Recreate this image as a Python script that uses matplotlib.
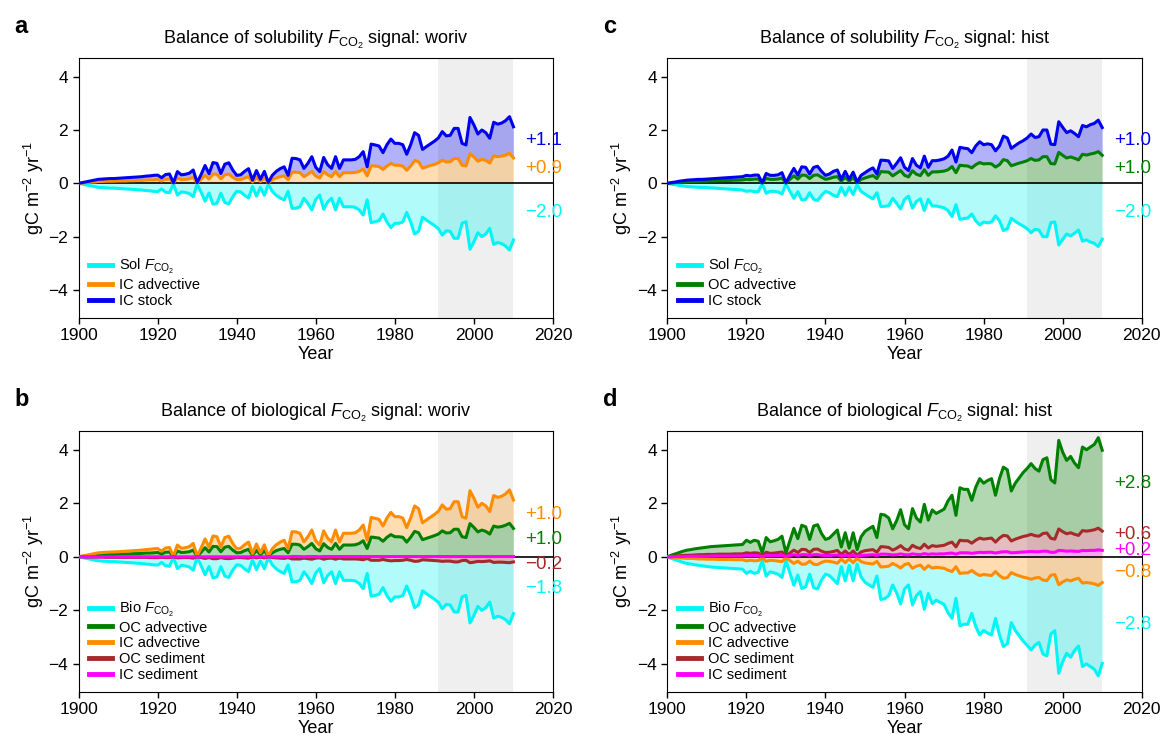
import numpy as np
import matplotlib
matplotlib.use("Agg")
import matplotlib.pyplot as plt

plt.rcParams['font.family'] = ['Liberation Sans', 'DejaVu Sans']
plt.rcParams['mathtext.fontset'] = 'custom'
plt.rcParams['mathtext.rm'] = 'Liberation Sans'
plt.rcParams['mathtext.it'] = 'Liberation Sans:italic'
plt.rcParams['mathtext.bf'] = 'Liberation Sans:bold'

years = np.arange(1900, 2011)

# ---- panel a: solubility signal, woriv ----
sol_a = [0.00, -0.03, -0.06, -0.09, -0.12, -0.15, -0.16, -0.17, -0.18, -0.18,
         -0.19, -0.20, -0.21, -0.22, -0.23, -0.24, -0.25, -0.27, -0.28, -0.30,
         -0.31, -0.21, -0.33, -0.35, -0.02, -0.44, -0.32, -0.34, -0.38, -0.50,
         -0.03, -0.33, -0.67, -0.36, -0.78, -0.75, -0.37, -0.72, -0.77, -0.50,
         -0.30, -0.32, -0.45, -0.55, -0.12, -0.48, -0.15, -0.45, -0.03, -0.30,
         -0.45, -0.55, -0.62, -0.30, -0.94, -0.93, -0.88, -0.56, -0.75, -1.00,
         -0.60, -0.44, -0.97, -0.70, -0.56, -1.00, -0.56, -0.88, -0.88, -0.88,
         -0.90, -1.00, -1.19, -0.62, -1.47, -1.44, -1.40, -1.15, -1.45, -1.66,
         -1.50, -1.50, -1.45, -1.09, -1.45, -1.90, -1.80, -1.27, -1.38, -1.48,
         -1.58, -1.70, -1.94, -1.78, -1.80, -2.06, -2.06, -1.50, -1.44, -2.47,
         -2.19, -1.85, -2.00, -1.90, -1.69, -2.29, -2.22, -2.26, -2.35, -2.50, -2.12]
icadv_a = [0.00, 0.01, 0.03, 0.04, 0.05, 0.07, 0.07, 0.08, 0.08, 0.08,
           0.09, 0.09, 0.09, 0.10, 0.10, 0.11, 0.11, 0.12, 0.13, 0.13,
           0.14, 0.09, 0.15, 0.16, 0.01, 0.20, 0.14, 0.15, 0.17, 0.23,
           0.01, 0.15, 0.30, 0.16, 0.35, 0.34, 0.17, 0.32, 0.35, 0.23,
           0.14, 0.14, 0.20, 0.25, 0.05, 0.22, 0.07, 0.20, 0.01, 0.14,
           0.20, 0.25, 0.28, 0.14, 0.42, 0.42, 0.40, 0.25, 0.34, 0.45,
           0.27, 0.20, 0.44, 0.32, 0.25, 0.45, 0.25, 0.40, 0.40, 0.40,
           0.41, 0.45, 0.54, 0.28, 0.66, 0.65, 0.63, 0.52, 0.65, 0.75,
           0.68, 0.68, 0.65, 0.49, 0.65, 0.86, 0.81, 0.57, 0.62, 0.67,
           0.71, 0.77, 0.87, 0.80, 0.81, 0.93, 0.93, 0.68, 0.65, 1.11,
           0.99, 0.83, 0.90, 0.86, 0.76, 1.03, 1.00, 1.02, 1.06, 1.13, 0.95]
icstock_a = [0.00, 0.03, 0.06, 0.09, 0.12, 0.15, 0.16, 0.17, 0.18, 0.18,
             0.19, 0.20, 0.21, 0.22, 0.23, 0.24, 0.25, 0.27, 0.28, 0.30,
             0.31, 0.21, 0.33, 0.35, 0.02, 0.44, 0.32, 0.34, 0.38, 0.50,
             0.03, 0.33, 0.67, 0.36, 0.78, 0.75, 0.37, 0.72, 0.77, 0.50,
             0.30, 0.32, 0.45, 0.55, 0.12, 0.48, 0.15, 0.45, 0.03, 0.30,
             0.45, 0.55, 0.62, 0.30, 0.94, 0.93, 0.88, 0.56, 0.75, 1.00,
             0.60, 0.44, 0.97, 0.70, 0.56, 1.00, 0.56, 0.88, 0.88, 0.88,
             0.90, 1.00, 1.19, 0.62, 1.47, 1.44, 1.40, 1.15, 1.45, 1.66,
             1.50, 1.50, 1.45, 1.09, 1.45, 1.90, 1.80, 1.27, 1.38, 1.48,
             1.58, 1.70, 1.94, 1.78, 1.80, 2.06, 2.06, 1.50, 1.44, 2.47,
             2.19, 1.85, 2.00, 1.90, 1.69, 2.29, 2.22, 2.26, 2.35, 2.50, 2.12]

# ---- panel b: biological signal, woriv ----
bio_b = [0.00, -0.03, -0.06, -0.09, -0.12, -0.15, -0.16, -0.17, -0.18, -0.18,
         -0.19, -0.20, -0.21, -0.22, -0.23, -0.24, -0.25, -0.27, -0.28, -0.30,
         -0.31, -0.21, -0.33, -0.35, -0.02, -0.44, -0.32, -0.34, -0.38, -0.50,
         -0.03, -0.33, -0.67, -0.36, -0.78, -0.75, -0.37, -0.72, -0.77, -0.50,
         -0.30, -0.32, -0.45, -0.55, -0.12, -0.48, -0.15, -0.45, -0.03, -0.30,
         -0.45, -0.55, -0.62, -0.30, -0.94, -0.93, -0.88, -0.56, -0.75, -1.00,
         -0.60, -0.44, -0.97, -0.70, -0.56, -1.00, -0.56, -0.88, -0.88, -0.88,
         -0.90, -1.00, -1.19, -0.62, -1.47, -1.44, -1.40, -1.15, -1.45, -1.66,
         -1.50, -1.50, -1.45, -1.09, -1.45, -1.90, -1.80, -1.27, -1.38, -1.48,
         -1.58, -1.70, -1.94, -1.78, -1.80, -2.06, -2.06, -1.50, -1.44, -2.47,
         -2.19, -1.85, -2.00, -1.90, -1.69, -2.29, -2.22, -2.26, -2.35, -2.50, -2.12]
ocadv_b = [0.00, 0.02, 0.03, 0.05, 0.06, 0.08, 0.08, 0.09, 0.09, 0.09,
           0.10, 0.10, 0.11, 0.11, 0.12, 0.12, 0.13, 0.14, 0.14, 0.15,
           0.16, 0.11, 0.17, 0.18, 0.01, 0.22, 0.16, 0.17, 0.19, 0.25,
           0.02, 0.17, 0.34, 0.18, 0.39, 0.38, 0.19, 0.36, 0.39, 0.25,
           0.15, 0.16, 0.23, 0.28, 0.06, 0.24, 0.08, 0.23, 0.02, 0.15,
           0.23, 0.28, 0.31, 0.15, 0.47, 0.47, 0.44, 0.28, 0.38, 0.50,
           0.30, 0.22, 0.49, 0.35, 0.28, 0.50, 0.28, 0.44, 0.44, 0.44,
           0.45, 0.50, 0.60, 0.31, 0.74, 0.72, 0.70, 0.58, 0.73, 0.83,
           0.75, 0.75, 0.73, 0.55, 0.73, 0.95, 0.90, 0.64, 0.69, 0.74,
           0.79, 0.85, 0.97, 0.89, 0.90, 1.03, 1.03, 0.75, 0.72, 1.24,
           1.10, 0.93, 1.00, 0.95, 0.85, 1.15, 1.11, 1.13, 1.18, 1.25, 1.06]
icadv_b = [0.00, 0.03, 0.06, 0.09, 0.12, 0.15, 0.16, 0.17, 0.18, 0.18,
           0.19, 0.20, 0.21, 0.22, 0.23, 0.24, 0.25, 0.27, 0.28, 0.30,
           0.31, 0.21, 0.33, 0.35, 0.02, 0.44, 0.32, 0.34, 0.38, 0.50,
           0.03, 0.33, 0.67, 0.36, 0.78, 0.75, 0.37, 0.72, 0.77, 0.50,
           0.30, 0.32, 0.45, 0.55, 0.12, 0.48, 0.15, 0.45, 0.03, 0.30,
           0.45, 0.55, 0.62, 0.30, 0.94, 0.93, 0.88, 0.56, 0.75, 1.00,
           0.60, 0.44, 0.97, 0.70, 0.56, 1.00, 0.56, 0.88, 0.88, 0.88,
           0.90, 1.00, 1.19, 0.62, 1.47, 1.44, 1.40, 1.15, 1.45, 1.66,
           1.50, 1.50, 1.45, 1.09, 1.45, 1.90, 1.80, 1.27, 1.38, 1.48,
           1.58, 1.70, 1.94, 1.78, 1.80, 2.06, 2.06, 1.50, 1.44, 2.47,
           2.19, 1.85, 2.00, 1.90, 1.69, 2.29, 2.22, 2.26, 2.35, 2.50, 2.12]
ocsed_b = [0.00, 0.00, -0.01, -0.01, -0.01, -0.01, -0.01, -0.02, -0.02, -0.02,
           -0.02, -0.02, -0.02, -0.02, -0.02, -0.02, -0.02, -0.02, -0.03, -0.03,
           -0.03, -0.02, -0.03, -0.03, 0.00, -0.04, -0.03, -0.03, -0.03, -0.05,
           0.00, -0.03, -0.06, -0.03, -0.07, -0.07, -0.03, -0.06, -0.07, -0.05,
           -0.03, -0.03, -0.04, -0.05, -0.01, -0.04, -0.01, -0.04, 0.00, -0.03,
           -0.04, -0.05, -0.06, -0.03, -0.08, -0.08, -0.08, -0.05, -0.07, -0.09,
           -0.05, -0.04, -0.09, -0.06, -0.05, -0.09, -0.05, -0.08, -0.08, -0.08,
           -0.08, -0.09, -0.11, -0.06, -0.13, -0.13, -0.13, -0.10, -0.13, -0.15,
           -0.14, -0.14, -0.13, -0.10, -0.13, -0.17, -0.16, -0.11, -0.12, -0.13,
           -0.14, -0.15, -0.17, -0.16, -0.16, -0.19, -0.19, -0.14, -0.13, -0.22,
           -0.20, -0.17, -0.18, -0.17, -0.15, -0.21, -0.20, -0.20, -0.21, -0.22, -0.19]
icsed_b = [0.00, 0.00, 0.00, 0.00, 0.00, 0.00, 0.00, 0.00, 0.00, 0.00,
           0.00, 0.00, 0.00, 0.00, 0.00, 0.00, 0.00, 0.00, 0.00, 0.00,
           0.00, 0.00, 0.00, 0.00, 0.00, 0.00, 0.00, 0.00, 0.00, 0.00,
           0.00, 0.00, 0.00, 0.00, 0.00, 0.00, 0.00, 0.00, 0.00, 0.00,
           0.00, 0.00, 0.00, 0.00, 0.00, 0.00, 0.00, 0.00, 0.00, 0.00,
           0.00, 0.00, 0.00, 0.00, 0.01, 0.01, 0.01, 0.00, 0.01, 0.01,
           0.01, 0.00, 0.01, 0.01, 0.01, 0.01, 0.01, 0.01, 0.01, 0.01,
           0.01, 0.01, 0.01, 0.01, 0.01, 0.01, 0.01, 0.01, 0.01, 0.01,
           0.01, 0.01, 0.01, 0.01, 0.01, 0.01, 0.01, 0.01, 0.01, 0.01,
           0.01, 0.01, 0.01, 0.01, 0.01, 0.01, 0.01, 0.01, 0.01, 0.01,
           0.01, 0.01, 0.01, 0.01, 0.01, 0.01, 0.01, 0.01, 0.01, 0.01, 0.01]

# ---- panel c: solubility signal, hist ----
sol_c = [0.00, -0.03, -0.05, -0.08, -0.10, -0.12, -0.13, -0.14, -0.15, -0.15,
         -0.16, -0.17, -0.18, -0.19, -0.20, -0.21, -0.22, -0.23, -0.24, -0.25,
         -0.30, -0.28, -0.31, -0.31, -0.02, -0.37, -0.30, -0.30, -0.32, -0.40,
         -0.02, -0.30, -0.56, -0.31, -0.62, -0.60, -0.35, -0.60, -0.64, -0.45,
         -0.30, -0.35, -0.45, -0.50, -0.15, -0.45, -0.15, -0.42, -0.05, -0.30,
         -0.40, -0.50, -0.58, -0.35, -0.87, -0.86, -0.84, -0.56, -0.75, -0.96,
         -0.60, -0.48, -0.93, -0.68, -0.58, -1.02, -0.60, -0.85, -0.85, -0.88,
         -0.92, -1.02, -1.25, -0.80, -1.35, -1.32, -1.30, -1.15, -1.40, -1.56,
         -1.45, -1.48, -1.45, -1.22, -1.40, -1.77, -1.70, -1.31, -1.42, -1.52,
         -1.60, -1.70, -1.85, -1.72, -1.75, -2.00, -2.00, -1.47, -1.45, -2.31,
         -2.10, -1.90, -1.97, -1.87, -1.75, -2.17, -2.12, -2.20, -2.25, -2.37, -2.09]
ocadv_c = [0.00, 0.01, 0.03, 0.04, 0.05, 0.06, 0.07, 0.07, 0.08, 0.08,
           0.08, 0.09, 0.09, 0.10, 0.10, 0.11, 0.11, 0.12, 0.12, 0.13,
           0.15, 0.14, 0.16, 0.16, 0.01, 0.19, 0.15, 0.15, 0.16, 0.20,
           0.01, 0.15, 0.28, 0.16, 0.31, 0.30, 0.18, 0.30, 0.32, 0.23,
           0.15, 0.18, 0.23, 0.25, 0.08, 0.23, 0.08, 0.21, 0.03, 0.15,
           0.20, 0.25, 0.29, 0.18, 0.44, 0.43, 0.42, 0.28, 0.38, 0.48,
           0.30, 0.24, 0.47, 0.34, 0.29, 0.51, 0.30, 0.43, 0.43, 0.44,
           0.46, 0.51, 0.63, 0.40, 0.68, 0.66, 0.65, 0.58, 0.70, 0.78,
           0.73, 0.74, 0.73, 0.61, 0.70, 0.89, 0.85, 0.66, 0.71, 0.76,
           0.80, 0.85, 0.93, 0.86, 0.88, 1.00, 1.00, 0.74, 0.73, 1.16,
           1.05, 0.95, 0.99, 0.94, 0.88, 1.09, 1.06, 1.10, 1.13, 1.19, 1.05]
icstock_c = [0.00, 0.03, 0.05, 0.08, 0.10, 0.12, 0.13, 0.14, 0.15, 0.15,
             0.16, 0.17, 0.18, 0.19, 0.20, 0.21, 0.22, 0.23, 0.24, 0.25,
             0.30, 0.28, 0.31, 0.31, 0.02, 0.37, 0.30, 0.30, 0.32, 0.40,
             0.02, 0.30, 0.56, 0.31, 0.62, 0.60, 0.35, 0.60, 0.64, 0.45,
             0.30, 0.35, 0.45, 0.50, 0.15, 0.45, 0.15, 0.42, 0.05, 0.30,
             0.40, 0.50, 0.58, 0.35, 0.87, 0.86, 0.84, 0.56, 0.75, 0.96,
             0.60, 0.48, 0.93, 0.68, 0.58, 1.02, 0.60, 0.85, 0.85, 0.88,
             0.92, 1.02, 1.25, 0.80, 1.35, 1.32, 1.30, 1.15, 1.40, 1.56,
             1.45, 1.48, 1.45, 1.22, 1.40, 1.77, 1.70, 1.31, 1.42, 1.52,
             1.60, 1.70, 1.85, 1.72, 1.75, 2.00, 2.00, 1.47, 1.45, 2.31,
             2.10, 1.90, 1.97, 1.87, 1.75, 2.17, 2.12, 2.20, 2.25, 2.37, 2.09]

# ---- panel d: biological signal, hist ----
bio_d = [0.00, -0.06, -0.11, -0.16, -0.21, -0.25, -0.27, -0.30, -0.32, -0.34,
         -0.36, -0.38, -0.39, -0.40, -0.41, -0.42, -0.43, -0.44, -0.45, -0.46,
         -0.62, -0.54, -0.62, -0.58, -0.15, -0.72, -0.56, -0.60, -0.65, -0.77,
         -0.15, -0.60, -1.06, -0.68, -1.18, -1.12, -0.65, -1.15, -1.20, -0.87,
         -0.65, -0.70, -0.85, -1.00, -0.37, -0.90, -0.32, -0.90, -0.27, -0.75,
         -0.95, -1.05, -1.14, -0.72, -1.59, -1.56, -1.45, -1.05, -1.35, -1.76,
         -1.20, -1.05, -1.80, -1.45, -1.30, -1.96, -1.37, -1.75, -1.62, -1.70,
         -1.78, -2.09, -2.30, -1.55, -2.58, -2.52, -2.52, -2.11, -2.60, -2.92,
         -2.75, -2.85, -2.92, -2.30, -2.92, -3.35, -3.25, -2.46, -2.75, -2.95,
         -3.15, -3.30, -3.48, -3.30, -3.20, -3.63, -3.70, -2.88, -2.76, -4.35,
         -3.91, -3.60, -3.75, -3.50, -3.33, -4.10, -4.00, -4.10, -4.20, -4.45, -3.98]
ocadv_d = [0.00, 0.06, 0.11, 0.16, 0.21, 0.25, 0.27, 0.30, 0.32, 0.34,
           0.36, 0.38, 0.39, 0.40, 0.41, 0.42, 0.43, 0.44, 0.45, 0.46,
           0.62, 0.54, 0.62, 0.58, 0.15, 0.72, 0.56, 0.60, 0.65, 0.77,
           0.15, 0.60, 1.06, 0.68, 1.18, 1.12, 0.65, 1.15, 1.20, 0.87,
           0.65, 0.70, 0.85, 1.00, 0.37, 0.90, 0.32, 0.90, 0.27, 0.75,
           0.95, 1.05, 1.14, 0.72, 1.59, 1.56, 1.45, 1.05, 1.35, 1.76,
           1.20, 1.05, 1.80, 1.45, 1.30, 1.96, 1.37, 1.75, 1.62, 1.70,
           1.78, 2.09, 2.30, 1.55, 2.58, 2.52, 2.52, 2.11, 2.60, 2.92,
           2.75, 2.85, 2.92, 2.30, 2.92, 3.35, 3.25, 2.46, 2.75, 2.95,
           3.15, 3.30, 3.48, 3.30, 3.20, 3.63, 3.70, 2.88, 2.76, 4.35,
           3.91, 3.60, 3.75, 3.50, 3.33, 4.10, 4.00, 4.10, 4.20, 4.45, 3.98]
icadv_d = [0.00, -0.01, -0.03, -0.04, -0.05, -0.06, -0.06, -0.07, -0.08, -0.08,
           -0.09, -0.09, -0.09, -0.10, -0.10, -0.10, -0.10, -0.11, -0.11, -0.11,
           -0.15, -0.13, -0.15, -0.14, -0.04, -0.17, -0.13, -0.14, -0.16, -0.18,
           -0.04, -0.14, -0.25, -0.16, -0.28, -0.27, -0.16, -0.28, -0.29, -0.21,
           -0.16, -0.17, -0.20, -0.24, -0.09, -0.22, -0.08, -0.22, -0.06, -0.18,
           -0.23, -0.25, -0.27, -0.17, -0.38, -0.37, -0.35, -0.25, -0.32, -0.42,
           -0.29, -0.25, -0.43, -0.35, -0.31, -0.47, -0.33, -0.42, -0.39, -0.41,
           -0.43, -0.50, -0.55, -0.37, -0.62, -0.60, -0.60, -0.51, -0.62, -0.70,
           -0.66, -0.68, -0.70, -0.55, -0.70, -0.80, -0.78, -0.59, -0.66, -0.71,
           -0.76, -0.79, -0.84, -0.79, -0.77, -0.87, -0.89, -0.69, -0.66, -1.04,
           -0.94, -0.86, -0.90, -0.84, -0.80, -0.98, -0.96, -0.98, -1.01, -1.07, -0.96]
ocsed_d = [0.00, 0.01, 0.03, 0.04, 0.05, 0.06, 0.06, 0.07, 0.08, 0.08,
           0.09, 0.09, 0.09, 0.10, 0.10, 0.10, 0.10, 0.11, 0.11, 0.11,
           0.15, 0.13, 0.15, 0.14, 0.04, 0.17, 0.13, 0.14, 0.16, 0.18,
           0.04, 0.14, 0.25, 0.16, 0.28, 0.27, 0.16, 0.28, 0.29, 0.21,
           0.16, 0.17, 0.20, 0.24, 0.09, 0.22, 0.08, 0.22, 0.06, 0.18,
           0.23, 0.25, 0.27, 0.17, 0.38, 0.37, 0.35, 0.25, 0.32, 0.42,
           0.29, 0.25, 0.43, 0.35, 0.31, 0.47, 0.33, 0.42, 0.39, 0.41,
           0.43, 0.50, 0.55, 0.37, 0.62, 0.60, 0.60, 0.51, 0.62, 0.70,
           0.66, 0.68, 0.70, 0.55, 0.70, 0.80, 0.78, 0.59, 0.66, 0.71,
           0.76, 0.79, 0.84, 0.79, 0.77, 0.87, 0.89, 0.69, 0.66, 1.04,
           0.94, 0.86, 0.90, 0.84, 0.80, 0.98, 0.96, 0.98, 1.01, 1.07, 0.96]
icsed_d = [0.00, 0.00, 0.01, 0.01, 0.01, 0.02, 0.02, 0.02, 0.02, 0.02,
           0.02, 0.03, 0.03, 0.03, 0.03, 0.03, 0.03, 0.03, 0.03, 0.03,
           0.05, 0.04, 0.05, 0.04, 0.01, 0.05, 0.04, 0.05, 0.05, 0.06,
           0.01, 0.05, 0.08, 0.05, 0.08, 0.08, 0.05, 0.08, 0.08, 0.06,
           0.05, 0.05, 0.06, 0.07, 0.03, 0.06, 0.03, 0.06, 0.02, 0.05,
           0.06, 0.07, 0.08, 0.05, 0.10, 0.10, 0.09, 0.07, 0.08, 0.11,
           0.08, 0.07, 0.11, 0.09, 0.08, 0.12, 0.09, 0.11, 0.10, 0.11,
           0.11, 0.13, 0.14, 0.10, 0.15, 0.15, 0.15, 0.13, 0.15, 0.17,
           0.16, 0.17, 0.17, 0.14, 0.17, 0.19, 0.19, 0.15, 0.16, 0.17,
           0.18, 0.19, 0.20, 0.19, 0.19, 0.21, 0.21, 0.17, 0.17, 0.24,
           0.23, 0.21, 0.22, 0.21, 0.20, 0.24, 0.23, 0.24, 0.24, 0.26, 0.24]

CYAN, ORANGE, BLUE = '#00f5f5', '#ff8c00', '#0000f0'
GREEN, BROWN, MAGENTA = '#008000', '#a52a2a', '#ff00ff'
FCO2 = r'$F_{\mathrm{CO_2}}$'

fig = plt.figure(figsize=(11.62, 7.35), dpi=100)
ax_a = fig.add_axes([0.0676, 0.5673, 0.4083, 0.3538])
ax_b = fig.add_axes([0.0676, 0.0585, 0.4083, 0.3551])
ax_c = fig.add_axes([0.5743, 0.5673, 0.4083, 0.3538])
ax_d = fig.add_axes([0.5743, 0.0585, 0.4083, 0.3551])


def draw_panel(ax, letter, title, lines, fills, labels):
    ax.axvspan(1991, 2010, color='#efefef', zorder=0, lw=0)
    for lo, hi, col in fills:
        ax.fill_between(years, lo, hi, color=col, alpha=0.3, lw=0, zorder=1)
    ax.axhline(0, color='black', lw=1.2, zorder=2)
    handles = []
    for vals, col, lab in lines:
        h, = ax.plot(years, vals, color=col, lw=2.2, label=lab, zorder=3)
        handles.append(h)
    for txt, yv, col in labels:
        ax.text(2013.0, yv, txt, color=col, fontsize=13.5, va='center', ha='left')
    ax.set_xlim(1900, 2020)
    ax.set_ylim(-5.05, 4.7)
    ax.set_xticks([1900, 1920, 1940, 1960, 1980, 2000, 2020])
    ax.set_yticks([-4, -2, 0, 2, 4])
    ax.set_yticklabels(['\u22124', '\u22122', '0', '2', '4'])
    ax.tick_params(labelsize=12.5, length=4, width=1)
    ax.set_xlabel('Year', fontsize=13, labelpad=2)
    ax.set_ylabel(r'gC m$^{-2}$ yr$^{-1}$', fontsize=13, labelpad=2)
    ax.set_title(title, fontsize=13, pad=10)
    leg = ax.legend(handles=handles, loc='lower left', frameon=False, fontsize=10.5,
                    handlelength=1.6, labelspacing=0.12, borderaxespad=0.3,
                    handletextpad=0.5)
    for line in leg.get_lines():
        line.set_linewidth(3.5)
    ax.text(-0.135, 1.12, letter, transform=ax.transAxes, fontsize=17,
            fontweight='bold', va='center')


m = '\u2212'
draw_panel(ax_a, 'a', 'Balance of solubility ' + FCO2 + ' signal: woriv',
           [(sol_a, CYAN, 'Sol ' + FCO2), (icadv_a, ORANGE, 'IC advective'),
            (icstock_a, BLUE, 'IC stock')],
           [(0, sol_a, CYAN), (0, icadv_a, ORANGE), (icadv_a, icstock_a, BLUE)],
           [('+1.1', 1.62, BLUE), ('+0.9', 0.54, ORANGE), (m + '2.0', -1.08, CYAN)])

draw_panel(ax_b, 'b', 'Balance of biological ' + FCO2 + ' signal: woriv',
           [(bio_b, CYAN, 'Bio ' + FCO2), (ocadv_b, GREEN, 'OC advective'),
            (icadv_b, ORANGE, 'IC advective'), (ocsed_b, BROWN, 'OC sediment'),
            (icsed_b, MAGENTA, 'IC sediment')],
           [(ocsed_b, bio_b, CYAN), (0, ocsed_b, BROWN), (0, ocadv_b, GREEN),
            (ocadv_b, icadv_b, ORANGE)],
           [('+1.0', 1.57, ORANGE), ('+1.0', 0.64, GREEN), (m + '0.2', -0.30, BROWN),
            (m + '1.8', -1.20, CYAN)])

draw_panel(ax_c, 'c', 'Balance of solubility ' + FCO2 + ' signal: hist',
           [(sol_c, CYAN, 'Sol ' + FCO2), (ocadv_c, GREEN, 'OC advective'),
            (icstock_c, BLUE, 'IC stock')],
           [(0, sol_c, CYAN), (0, ocadv_c, GREEN), (ocadv_c, icstock_c, BLUE)],
           [('+1.0', 1.62, BLUE), ('+1.0', 0.57, GREEN), (m + '2.0', -1.08, CYAN)])

draw_panel(ax_d, 'd', 'Balance of biological ' + FCO2 + ' signal: hist',
           [(bio_d, CYAN, 'Bio ' + FCO2), (ocadv_d, GREEN, 'OC advective'),
            (icadv_d, ORANGE, 'IC advective'), (ocsed_d, BROWN, 'OC sediment'),
            (icsed_d, MAGENTA, 'IC sediment')],
           [(icadv_d, bio_d, CYAN), (0, icadv_d, ORANGE), (0, icsed_d, MAGENTA),
            (icsed_d, ocsed_d, BROWN), (ocsed_d, ocadv_d, GREEN)],
           [('+2.8', 2.75, GREEN), ('+0.6', 0.85, BROWN), ('+0.2', 0.25, MAGENTA),
            (m + '0.8', -0.57, ORANGE), (m + '2.8', -2.51, CYAN)])

fig.savefig('out.png', dpi=100)
